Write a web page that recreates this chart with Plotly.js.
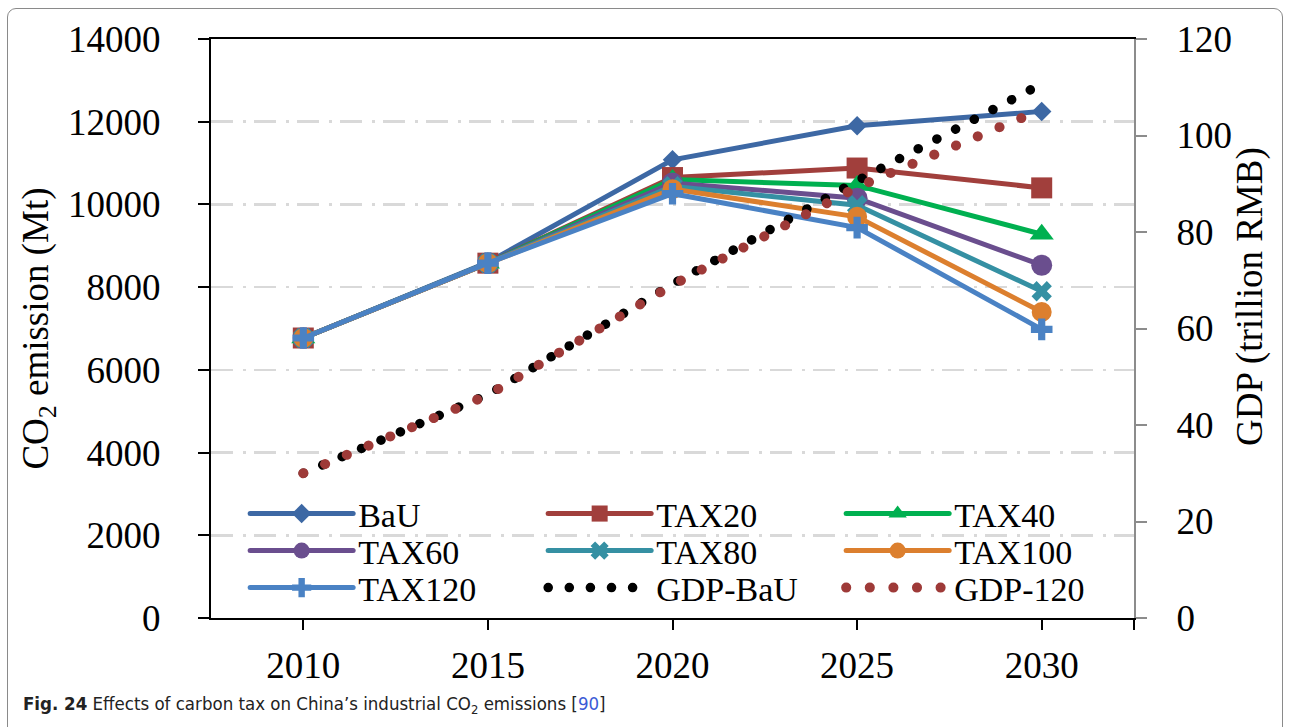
<!DOCTYPE html>
<html><head><meta charset="utf-8">
<script src="https://cdn.plot.ly/plotly-3.0.1.min.js"></script>
<style>
html,body{margin:0;padding:0;background:#fff;}
#chart{position:absolute;left:0;top:0;width:1289px;height:727px;}
#frame{position:absolute;left:7px;top:8px;width:1276px;height:760px;border:1.5px solid #8a8a8a;border-radius:9px;box-sizing:border-box;pointer-events:none;}
.js-line{stroke-linecap:round !important;}
</style></head><body>
<div id="chart"></div><div id="frame"></div>
<script>
// ---- data ----
const years   = [2010, 2015, 2020, 2025, 2030];
const bau     = [6770, 8600, 11080, 11900, 12250];
const tax20   = [6770, 8580, 10650, 10880, 10400];
const tax40   = [6770, 8580, 10600, 10460, 9280];
const tax60   = [6770, 8580, 10520, 10150, 8530];
const tax80   = [6770, 8580, 10440, 9980, 7900];
const tax100  = [6770, 8580, 10370, 9700, 7400];
const tax120  = [6770, 8580, 10260, 9440, 6980];
const gdpBau  = [30, 46.3, 69.2, 90.6, 110.7];
const gdp120  = [30, 46.2, 69.0, 89.3, 105.4];
const seriesNames = ["BaU","TAX20","TAX40","TAX60","TAX80","TAX100","TAX120","GDP-BaU","GDP-120"];
const yTitleLeft  = "CO<sub>2</sub> emission (Mt)";
const yTitleRight = "GDP (trillion RMB)";
const caption = "<b>Fig. 24</b> Effects of carbon tax on China’s industrial CO<sub>2</sub> emissions [<span style='color:#3b5bd6'>90</span>]";

const xRange = [2007.5, 2032.5];

function emis(name, y, color, symbol, size, leg){
  return {x: years, y: y, name: name, type:'scatter', mode:'lines+markers',
    line:{color:color, width:5}, marker:{symbol:symbol, size:size, color:color, line:{width:0}},
    legend: leg, hoverinfo:'x+y+name'};
}
const traces = [
  emis(seriesNames[0], bau,    '#3d68a4', 'diamond',     15, 'legend'),
  emis(seriesNames[1], tax20,  '#a13f3c', 'square',      21, 'legend'),
  emis(seriesNames[2], tax40,  '#00b050', 'triangle-up', 21, 'legend'),
  emis(seriesNames[3], tax60,  '#6a4e8e', 'circle',      21, 'legend2'),
  emis(seriesNames[4], tax80,  '#3590a3', 'x',           18, 'legend2'),
  emis(seriesNames[5], tax100, '#dc7f2e', 'circle',      20, 'legend2'),
  emis(seriesNames[6], tax120, '#4a82c4', 'cross',       18, 'legend3'),
  {x: years, y: gdpBau, name: seriesNames[7], type:'scatter', mode:'lines', yaxis:'y2',
   line:{color:'#000000', width:9.5, dash:'0.1px,21px'}, legend:'legend3'},
  {x: years, y: gdp120, name: seriesNames[8], type:'scatter', mode:'lines', yaxis:'y2',
   line:{color:'#9e3a38', width:10, dash:'0.1px,23.5px'}, legend:'legend3'}
];

const serif = '"Liberation Serif", "Times New Roman", serif';
const legBase = {orientation:'h', x:0.037, xanchor:'left', yanchor:'middle',
  bgcolor:'rgba(0,0,0,0)', borderwidth:0, font:{family:serif, size:34, color:'#000'},
  itemwidth:103, entrywidth:180, entrywidthmode:'pixels', traceorder:'normal'};

const layout = {
  width:1289, height:727,
  margin:{l:211, r:155, t:39, b:109, pad:0},
  paper_bgcolor:'#ffffff', plot_bgcolor:'#ffffff',
  font:{family:serif, size:36, color:'#000'},
  showlegend:true,
  xaxis:{range:xRange, tickvals: years, ticktext: years.map(String),
    ticks:'outside', ticklen:10, tickwidth:2, tickcolor:'#000',
    minor:{tickvals:[xRange[1]], ticks:'outside', ticklen:10, tickwidth:2, tickcolor:'#000', showgrid:false},
    showline:true, linecolor:'#000', linewidth:2, mirror:true,
    showgrid:false, zeroline:false, ticklabelstandoff:4, tickfont:{family:serif, size:37}},
  yaxis:{range:[0,14000], tick0:0, dtick:2000, tickformat:'d', ticks:'outside', ticklen:11, tickwidth:2, tickcolor:'#000',
    showline:true, linecolor:'#000', linewidth:2,
    showgrid:true, gridcolor:'#d9d9d9', gridwidth:2.5, griddash:'22px,10px,3px,8px',
    zeroline:false, ticklabelstandoff:30, tickfont:{family:serif, size:37},
    title:{text:yTitleLeft, font:{family:serif, size:37}, standoff:8}},
  yaxis2:{overlaying:'y', side:'right', range:[0,120], tick0:0, dtick:20, tickformat:'d',
    ticks:'outside', ticklen:11, tickwidth:2, tickcolor:'#8c8c8c',
    showline:true, linecolor:'#8c8c8c', linewidth:2, showgrid:false, zeroline:false,
    ticklabelstandoff:22, tickfont:{family:serif, size:37}},
  legend:  Object.assign({}, legBase, {y:(618-514)/579}),
  legend2: Object.assign({}, legBase, {y:(618-551)/579}),
  legend3: Object.assign({}, legBase, {y:(618-588)/579}),
  annotations:[
    {text:yTitleRight, xref:'paper', yref:'paper', x:(1250-211)/923, y:(618-297)/579,
     xanchor:'center', yanchor:'middle', textangle:-90, showarrow:false, font:{family:serif, size:37, color:'#000'}},
    {text:caption, xref:'paper', yref:'paper', x:(21-211)/923, y:(618-705)/579,
     xanchor:'left', yanchor:'middle', showarrow:false, align:'left',
     font:{family:'"DejaVu Sans Condensed", "Liberation Sans Narrow", sans-serif', size:18.5, color:'#222'}}
  ]
};
Plotly.newPlot('chart', traces, layout, {displayModeBar:false, staticPlot:true});
</script>
</body></html>
